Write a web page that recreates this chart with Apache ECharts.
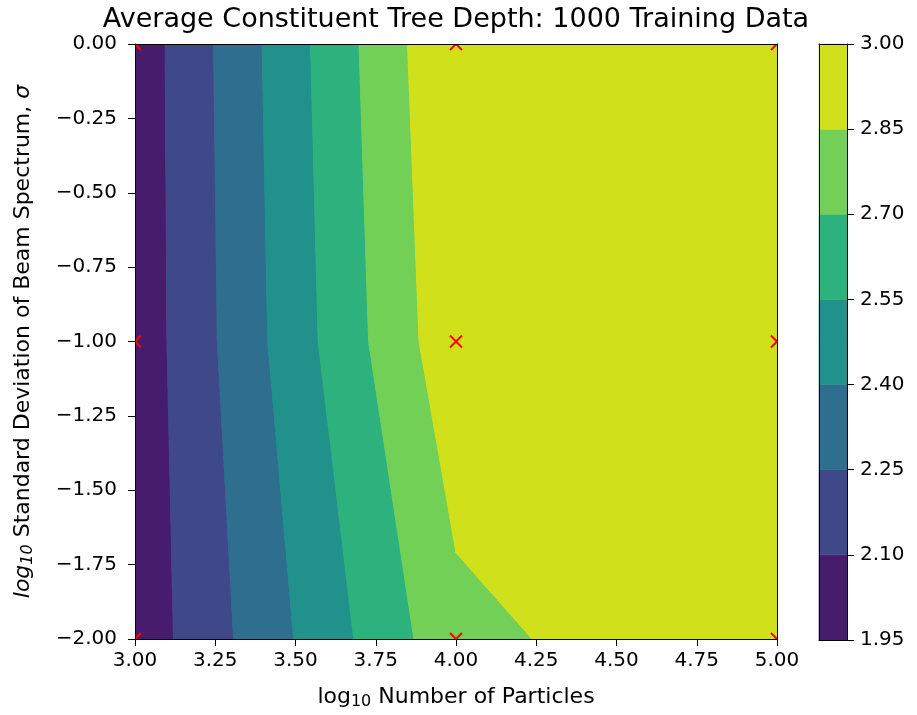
<!DOCTYPE html>
<html>
<head>
<meta charset="utf-8">
<script src="https://cdn.jsdelivr.net/npm/echarts@6/dist/echarts.min.js"></script>
<style>
html, body { margin: 0; padding: 0; background: #fff; }
#chart { width: 917px; height: 715px; }
</style>
</head>
<body>
<div id="chart"></div>
<script>
// grid nodes (log10 particles, log10 sigma) and mean tree depth at each node
const xVals = [3, 4, 5];
const yVals = [0, -1, -2];
const depth = [
    [2.007, 3.000, 3.000],
    [2.005, 2.960, 3.000],
    [2.004, 2.805, 2.995]
];
const levels = [1.95, 2.10, 2.25, 2.40, 2.55, 2.70, 2.85, 3.00];
const bandColors = ["#471c6d", "#3f4889", "#2e6e8e", "#21918c", "#2db27d", "#73d056", "#d0e11c"];

const font = "DejaVu Sans";
const fmt = v => (v < 0 ? "\u2212" + Math.abs(v).toFixed(2) : v.toFixed(2));

//网格单元
const cells = [];
for (let r = 0; r < yVals.length - 1; r++) {
    for (let c = 0; c < xVals.length - 1; c++) {
        cells.push([c, r]);
    }
}
const nodes = [];
yVals.forEach(y => xVals.forEach(x => nodes.push([x, y])));

//每个单元按等值带切多边形 (marching squares, 沿边线性插值)
function renderCell(params, api) {
    const c = api.value(0), r = api.value(1);
    const corners = [[c, r], [c + 1, r], [c + 1, r + 1], [c, r + 1]].map(p => ({
        x: xVals[p[0]], y: yVals[p[1]], z: depth[p[1]][p[0]]
    }));
    const children = [];
    for (let k = 0; k < bandColors.length; k++) {
        const lo = levels[k], hi = levels[k + 1];
        const pts = [];
        for (let e = 0; e < 4; e++) {
            const a = corners[e], b = corners[(e + 1) % 4];
            if (a.z >= lo && a.z <= hi) pts.push([a.x, a.y]);
            const cross = [];
            [lo, hi].forEach(L => {
                if ((a.z - L) * (b.z - L) < 0) {
                    const t = (L - a.z) / (b.z - a.z);
                    cross.push({t: t, p: [a.x + t * (b.x - a.x), a.y + t * (b.y - a.y)]});
                }
            });
            cross.sort((m, n) => m.t - n.t).forEach(o => pts.push(o.p));
        }
        if (pts.length >= 3) {
            children.push({
                type: "polygon",
                shape: {points: pts.map(p => api.coord(p))},
                style: {fill: bandColors[k], stroke: bandColors[k], lineWidth: 1}
            });
        }
    }
    return {type: "group", children: children};
}

function renderMarker(params, api) {
    const p = api.coord([api.value(0), api.value(1)]);
    const s = 6;
    const st = {stroke: "#ff0000", lineWidth: 2};
    return {
        type: "group",
        children: [
            {type: "line", shape: {x1: p[0] - s, y1: p[1] - s, x2: p[0] + s, y2: p[1] + s}, style: st},
            {type: "line", shape: {x1: p[0] - s, y1: p[1] + s, x2: p[0] + s, y2: p[1] - s}, style: st}
        ]
    };
}

function renderBar(params, api) {
    const k = api.value(0);
    const p0 = api.coord([0, levels[k + 1]]);
    const p1 = api.coord([1, levels[k]]);
    return {
        type: "rect",
        shape: {x: p0[0], y: p0[1], width: p1[0] - p0[0], height: p1[1] - p0[1]},
        style: {fill: bandColors[k], stroke: bandColors[k], lineWidth: 0.6}
    };
}

const lineOnly = {
    axisLine: {show: true, onZero: false, lineStyle: {color: "#000", width: 1}},
    axisTick: {show: false},
    axisLabel: {show: false},
    splitLine: {show: false},
    z: 10
};
const tickStyle = {show: true, length: 7, lineStyle: {color: "#000", width: 1}};
const labelBase = {color: "#000", fontFamily: font, fontSize: 20};

const chart = echarts.init(document.getElementById("chart"), null, {renderer: "canvas"});

const option = {
    animation: false,
    backgroundColor: "#fff",
    title: {
        text: "Average Constituent Tree Depth: 1000 Training Data",
        left: 451,
        top: 1,
        textAlign: "center",
        textStyle: {fontFamily: font, fontSize: 27, fontWeight: "normal", color: "#000"}
    },
    grid: [
        {left: 135, top: 44, right: 140, bottom: 75},
        {left: 819, top: 44, width: 28, bottom: 75}
    ],
    xAxis: [
        {
            type: "value", gridIndex: 0, min: 3, max: 5, interval: 0.25, position: "bottom",
            axisLine: {show: true, onZero: false, lineStyle: {color: "#000"}},
            axisTick: tickStyle,
            axisLabel: Object.assign({formatter: fmt, margin: 12}, labelBase),
            splitLine: {show: false},
            z: 10,
            name: "{n|log}{s|10}{n| Number of Particles}",
            nameLocation: "middle",
            nameGap: 45,
            nameTextStyle: {
                rich: {
                    n: {fontFamily: font, fontSize: 22, color: "#000"},
                    s: {fontFamily: font, fontSize: 16, color: "#000", padding: [10, 0, 0, 0]}
                }
            }
        },
        Object.assign({type: "value", gridIndex: 0, min: 3, max: 5, position: "top"}, lineOnly),
        Object.assign({type: "value", gridIndex: 1, min: 0, max: 1, position: "bottom"}, lineOnly),
        Object.assign({type: "value", gridIndex: 1, min: 0, max: 1, position: "top"}, lineOnly)
    ],
    yAxis: [
        {
            type: "value", gridIndex: 0, min: -2, max: 0, interval: 0.25, position: "left",
            axisLine: {show: true, onZero: false, lineStyle: {color: "#000"}},
            axisTick: tickStyle,
            axisLabel: Object.assign({formatter: fmt, margin: 18}, labelBase),
            splitLine: {show: false},
            z: 10,
            name: "{i|log}{s|10}{n| Standard Deviation of Beam Spectrum, }{i|\u03c3}",
            nameLocation: "middle",
            nameGap: 99,
            nameTextStyle: {
                rich: {
                    n: {fontFamily: font, fontSize: 22, color: "#000"},
                    i: {fontFamily: font, fontSize: 22, color: "#000", fontStyle: "italic"},
                    s: {fontFamily: font, fontSize: 16, color: "#000", fontStyle: "italic", padding: [10, 0, 0, 0]}
                }
            }
        },
        Object.assign({type: "value", gridIndex: 0, min: -2, max: 0, position: "right"}, lineOnly),
        Object.assign({type: "value", gridIndex: 1, min: 1.95, max: 3.0, position: "left"}, lineOnly),
        {
            type: "value", gridIndex: 1, min: 1.95, max: 3.0, interval: 0.15, position: "right",
            axisLine: {show: true, onZero: false, lineStyle: {color: "#000"}},
            axisTick: tickStyle,
            axisLabel: Object.assign({formatter: v => v.toFixed(2), margin: 13}, labelBase),
            splitLine: {show: false},
            z: 10
        }
    ],
    series: [
        {
            type: "custom",
            name: "depth",
            xAxisIndex: 0,
            yAxisIndex: 0,
            renderItem: renderCell,
            data: cells,
            clip: true,
            z: 2
        },
        {
            type: "custom",
            name: "nodes",
            xAxisIndex: 0,
            yAxisIndex: 0,
            renderItem: renderMarker,
            data: nodes,
            clip: true,
            z: 3
        },
        {
            type: "custom",
            name: "colorbar",
            xAxisIndex: 2,
            yAxisIndex: 2,
            renderItem: renderBar,
            data: bandColors.map((c, k) => [k]),
            z: 2
        }
    ]
};

chart.setOption(option);
</script>
</body>
</html>
